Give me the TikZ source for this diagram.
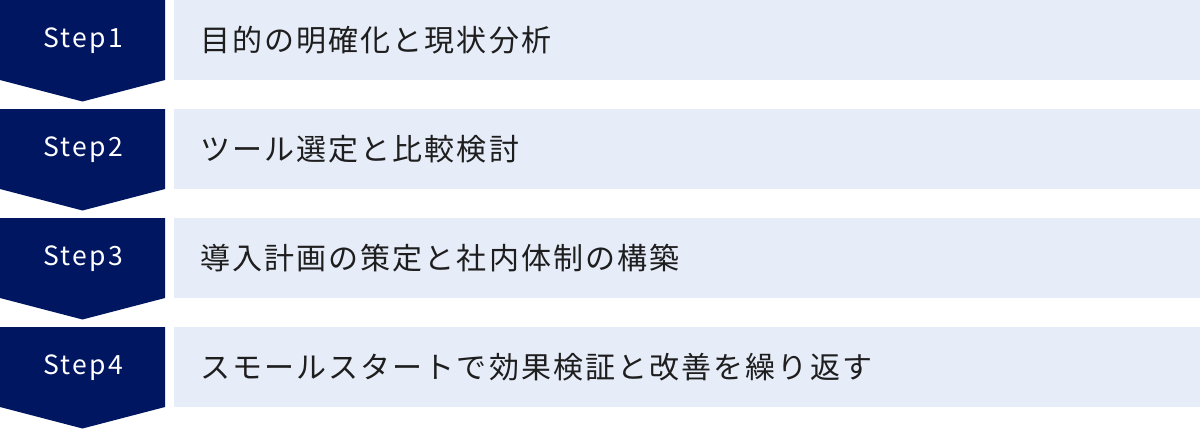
\documentclass[tikz,border=0pt]{standalone}
\usepackage{fontspec}
\newfontfamily\jpfont[LetterSpace=7]{Noto Sans CJK JP}
\newfontfamily\stepfont[LetterSpace=9]{Noto Sans CJK JP}
\definecolor{navy}{RGB}{0,22,96}
\definecolor{lightbg}{RGB}{230,236,248}
\definecolor{txt}{RGB}{30,30,30}
\begin{document}
\begin{tikzpicture}[x=1pt,y=-1pt,
  stepshape/.style={fill=navy,draw=none},
  barbox/.style={fill=lightbg,draw=none},
  steplabel/.style={text=white,font=\stepfont\fontsize{26.5}{30}\selectfont,anchor=center,inner sep=0pt},
  desclabel/.style={text=txt,font=\jpfont\fontsize{30}{34}\selectfont,anchor=west,inner sep=0pt}]
\useasboundingbox (0,0) rectangle (1200,429);
\foreach \i/\t in {0/{目的の明確化と現状分析},1/{ツール選定と比較検討},2/{導入計画の策定と社内体制の構築},3/{スモールスタートで効果検証と改善を繰り返す}}{
  \pgfmathsetmacro{\top}{\i*109}
  \fill[stepshape] (0,\top) -- (165,\top) -- (165,\top+80) -- (82.5,\top+101.5) -- (0,\top+80) -- cycle;
  \fill[barbox] (174,\top) rectangle (1200,\top+80);
  \pgfmathtruncatemacro{\n}{\i+1}
  \node[steplabel] (s\n) at (83.5,\top+41) {Step\n};
  \node[desclabel] (d\n) at (200,\top+40) {\t};
}
\end{tikzpicture}
\end{document}
